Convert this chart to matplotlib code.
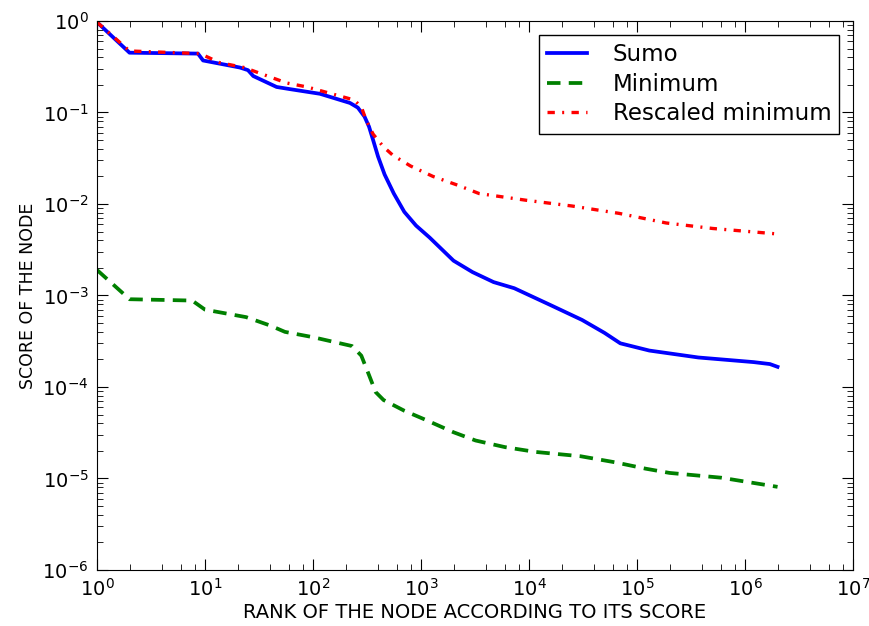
import matplotlib
matplotlib.use("Agg")
import matplotlib.pyplot as plt
from matplotlib.ticker import LogLocator, NullFormatter

# values (log-log)
sumo_x = [1, 2, 8.6, 9.6, 21, 25, 28, 46, 61, 116, 220, 260, 300, 330, 360, 400,
          460, 560, 700, 900, 1200, 2000, 3000, 4700, 7300, 16000, 31000, 50000,
          70000, 130000, 370000, 1200000, 1700000, 2000000]
sumo_y = [0.97, 0.45, 0.44, 0.37, 0.31, 0.29, 0.25, 0.19, 0.18, 0.16, 0.127, 0.113,
          0.09, 0.07, 0.05, 0.033, 0.021, 0.013, 0.0082, 0.0058, 0.0043, 0.0024,
          0.0018, 0.0014, 0.0012, 0.00078, 0.00054, 0.00039, 0.0003, 0.00025,
          0.00021, 0.000187, 0.000178, 0.000166]

min_x = [1, 2, 7.6, 10, 24, 40, 55, 100, 230, 280, 330, 380, 450, 700, 1090, 2000,
         3200, 6000, 11500, 30000, 63000, 120000, 200000, 600000, 2000000]
min_y = [0.0019, 0.00091, 0.00088, 0.0007, 0.00058, 0.00047, 0.0004, 0.00035,
         0.00028, 0.00022, 0.000135, 0.000088, 0.000072, 0.000055, 0.000044,
         0.000032, 0.000026, 0.000022, 0.0000195, 0.0000175, 0.000015, 0.0000128,
         0.0000115, 0.0000102, 0.0000081]

resc_x = [1, 2, 9, 13.7, 23, 57, 88, 240, 280, 310, 360, 450, 550, 800, 1290, 2200,
          3450, 9300, 25000, 68000, 186000, 500000, 2000000]
resc_y = [0.97, 0.47, 0.44, 0.35, 0.31, 0.21, 0.19, 0.137, 0.115, 0.083, 0.058,
          0.042, 0.034, 0.026, 0.02, 0.016, 0.013, 0.011, 0.0095, 0.0079, 0.0062,
          0.0054, 0.0047]

fig = plt.figure(figsize=(8.7, 6.26), dpi=100)
ax = fig.add_axes([0.1115, 0.0895, 0.869, 0.877])
ax.plot(sumo_x, sumo_y, color='b', linewidth=2.7, label='Sumo')
ax.plot(min_x, min_y, color=(0, 0.5, 0), linewidth=2.7, linestyle='--',
        dashes=(3.6, 2.2), label='Minimum')
ax.plot(resc_x, resc_y, color='r', linewidth=2.4, linestyle='-.',
        dashes=(2.2, 2.2, 0.6, 2.2), label='Rescaled minimum')
ax.set_xscale('log')
ax.set_yscale('log')
ax.set_xlim(1, 1e7)
ax.set_ylim(1e-6, 1)
ax.xaxis.set_minor_locator(LogLocator(base=10, subs=(2, 4, 6, 8)))
ax.xaxis.set_minor_formatter(NullFormatter())
ax.yaxis.set_minor_locator(LogLocator(base=10, subs=range(2, 10)))
ax.yaxis.set_minor_formatter(NullFormatter())
ax.tick_params(which='both', direction='in', top=True, right=True, labelsize=14)
ax.tick_params(which='major', length=8, pad=6)
ax.tick_params(which='minor', length=4)
ax.set_xlabel('RANK OF THE NODE ACCORDING TO ITS SCORE', fontsize=14, labelpad=2)
ax.set_ylabel('SCORE OF THE NODE', fontsize=12.5)
leg = ax.legend(loc='upper right', fontsize=16.5, fancybox=False, handlelength=1.75,
                handletextpad=1.1, labelspacing=0.3, borderpad=0.35,
                borderaxespad=0.6)
leg.get_frame().set_edgecolor('black')
leg.get_frame().set_alpha(1)
fig.savefig('out.png', dpi=100)
